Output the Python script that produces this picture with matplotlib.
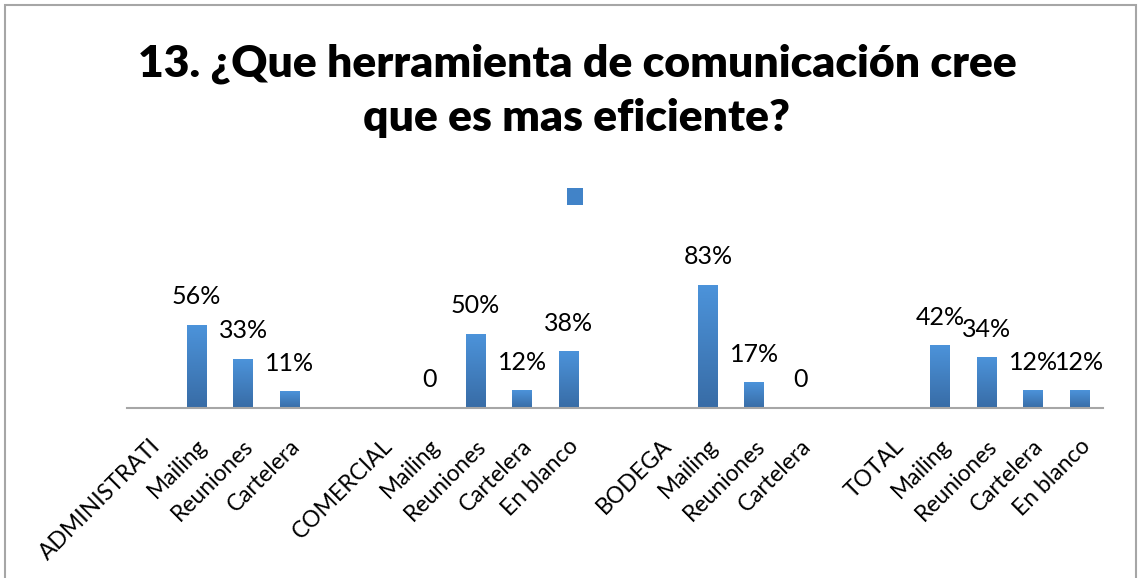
import numpy as np
import matplotlib
matplotlib.use("Agg")
import matplotlib.pyplot as plt
from matplotlib.patches import Patch, Rectangle

# categories along the x axis ("" = empty spacer slot)
categories = ["ADMINISTRATI", "Mailing", "Reuniones", "Cartelera", "",
              "COMERCIAL", "Mailing", "Reuniones", "Cartelera", "En blanco", "",
              "BODEGA", "Mailing", "Reuniones", "Cartelera", "",
              "TOTAL", "Mailing", "Reuniones", "Cartelera", "En blanco"]
# share per category (None = no bar, no label)
values = [None, 0.56, 0.33, 0.11, None,
          None, 0.0, 0.50, 0.12, 0.38, None,
          None, 0.83, 0.17, 0.0, None,
          None, 0.42, 0.34, 0.12, 0.12]
title_lines = ["13. ¿Que herramienta de comunicación cree",
               "que es mas eficiente?"]

W, H = 1138, 578
plt.rcParams["font.family"] = ["Lato", "DejaVu Sans"]

fig = plt.figure(figsize=(W / 100, H / 100), dpi=100)
# outer chart frame
fig.patches.append(Rectangle((5 / W, -0.01), 1131 / W, 1 - 5 / H + 0.01,
                             transform=fig.transFigure, fill=False,
                             edgecolor="#A6A6A6", linewidth=1.5))

ax = fig.add_axes([127 / W, 170 / H, 976 / W, 148 / H])
top_c = np.array([0x4C, 0x93, 0xDA]) / 255
bot_c = np.array([0x38, 0x6C, 0xA6]) / 255
grad = np.linspace(top_c, bot_c, 64)[:, None, :]
bw = 0.43

for i, v in enumerate(values):
    if v is None:
        continue
    if v > 0:
        ax.imshow(grad, extent=[i - bw / 2, i + bw / 2, 0, v], aspect="auto",
                  interpolation="bilinear", zorder=2)
    lab = f"{round(v * 100)}%" if v > 0 else "0"
    ax.annotate(lab, (i, v), xytext=(0, 12), textcoords="offset points",
                ha="center", va="bottom", fontsize=18)

for i, c in enumerate(categories):
    if c:
        ax.annotate(c, (i, 0), xytext=(5, -25), textcoords="offset points",
                    rotation=45, ha="right", va="center",
                    rotation_mode="anchor", fontsize=16.5)

ax.set_xlim(-0.5, len(categories) - 0.5)
ax.set_ylim(0, 1)
ax.set_xticks([])
ax.set_yticks([])
for s in ("top", "left", "right"):
    ax.spines[s].set_visible(False)
ax.spines["bottom"].set_color("#A6A6A6")
ax.spines["bottom"].set_linewidth(1.5)

for txt, yb in zip(title_lines, (77, 131)):
    fig.text(577 / W, 1 - yb / H, txt, ha="center", va="baseline",
             fontsize=32, fontweight="heavy")

fig.legend(handles=[Patch(facecolor="#4183C8")], labels=[""], loc="center",
           bbox_to_anchor=(575 / W, 1 - 198 / H), frameon=False,
           fontsize=18, handlelength=0.64, handleheight=0.64,
           handletextpad=0, borderpad=0, borderaxespad=0)

fig.savefig("out.png", dpi=100)
